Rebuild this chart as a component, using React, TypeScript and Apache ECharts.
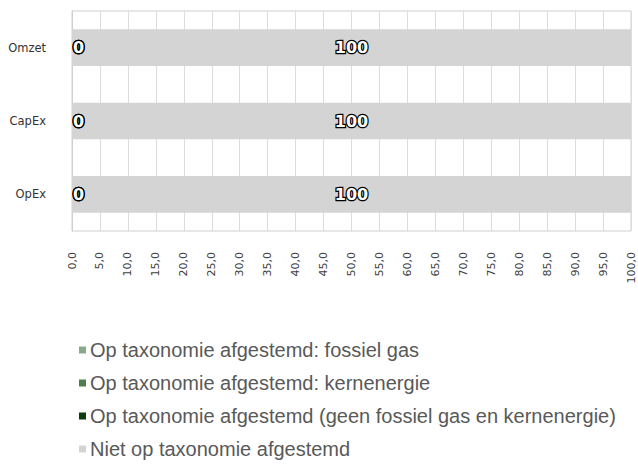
import React, { useEffect, useRef } from "react";
import * as echarts from "echarts";

const categories = ["Omzet", "CapEx", "OpEx"];
const seriesNames = [
  "Op taxonomie afgestemd: fossiel gas",
  "Op taxonomie afgestemd: kernenergie",
  "Op taxonomie afgestemd (geen fossiel gas en kernenergie)",
  "Niet op taxonomie afgestemd",
];
const fossielGas = [0, 0, 0];
const kernenergie = [0, 0, 0];
const overigAfgestemd = [0, 0, 0];
const nietAfgestemd = [100, 100, 100];
const seriesColors = ["#8aa98a", "#4f7d4f", "#0c3b0c", "#d4d4d4"];

export default function App() {
  const ref = useRef<HTMLDivElement>(null);
  useEffect(() => {
    if (!ref.current) return;
    const chart = echarts.init(ref.current, undefined, { renderer: "svg" });
    const values = [fossielGas, kernenergie, overigAfgestemd, nietAfgestemd];
    const labelStyle = {
      show: true,
      color: "#ffffff",
      textBorderColor: "#000000",
      textBorderWidth: 2.5,
      fontFamily: "DejaVu Sans",
      fontWeight: "bold" as const,
      fontSize: 16,
    };
    chart.setOption({
      animation: false,
      grid: {
        left: 72,
        right: 7,
        top: 11,
        bottom: 242,
        show: true,
        borderColor: "#d0d0d0",
        borderWidth: 1,
      },
      legend: {
        orient: "vertical",
        left: 74,
        top: 335,
        icon: "rect",
        itemWidth: 7,
        itemHeight: 7,
        itemGap: 13,
        data: seriesNames,
        textStyle: {
          fontFamily: "Liberation Sans",
          fontSize: 20,
          color: "#595959",
          padding: [0, 0, 0, -1],
        },
      },
      xAxis: {
        type: "value",
        min: 0,
        max: 100,
        interval: 5,
        axisLine: { show: false },
        axisTick: { show: false },
        splitLine: { show: true, lineStyle: { color: "#dcdcdc" } },
        axisLabel: {
          rotate: 90,
          margin: 21,
          fontFamily: "DejaVu Sans",
          fontSize: 11,
          color: "#404040",
          formatter: (v: number) => v.toFixed(1).replace(".", ","),
        },
      },
      yAxis: {
        type: "category",
        data: categories,
        inverse: true,
        axisLine: { show: true, lineStyle: { color: "#d0d0d0" } },
        axisTick: { show: false },
        axisLabel: {
          margin: 26,
          fontFamily: "DejaVu Sans",
          fontSize: 11.5,
          color: "#333333",
        },
      },
      series: values.map((vals, i) => ({
        name: seriesNames[i],
        type: "bar",
        stack: "total",
        barWidth: "50%",
        data: vals,
        itemStyle: { color: seriesColors[i] },
        label:
          i === 3
            ? { ...labelStyle, position: "inside" }
            : { ...labelStyle, position: "right", distance: 1 },
      })),
    });
    return () => chart.dispose();
  }, []);
  return (
    <div
      ref={ref}
      style={{ position: "absolute", left: 0, top: 0, width: 638, height: 473 }}
    />
  );
}
